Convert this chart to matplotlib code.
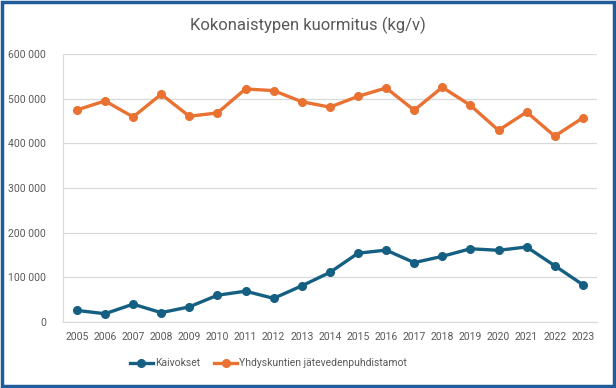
import matplotlib
matplotlib.use("Agg")
import matplotlib.pyplot as plt
from matplotlib.ticker import FuncFormatter
from matplotlib.patches import Rectangle

years = list(range(2005, 2024))
kaivokset = [26000, 18600, 40000, 21000, 34000, 60000, 69000, 53000, 81000, 111000,
             154000, 161000, 133000, 147000, 164000, 160500, 168000, 126000, 83500]
puhdistamot = [474600, 494800, 459000, 509800, 460500, 468000, 521600, 517900, 493000, 481000,
               505000, 523900, 474000, 525400, 485000, 429000, 470000, 416000, 457000]
y_ticks = [0, 100000, 200000, 300000, 400000, 500000, 600000]

C_BLUE = "#156082"
C_ORANGE = "#E97132"
C_TXT = "#595959"
C_GRID = "#D9D9D9"
FONT = "Roboto"

plt.rcParams["font.family"] = [FONT, "DejaVu Sans"]

fig = plt.figure(figsize=(6.16, 3.88), dpi=100, facecolor="white")
ax = fig.add_axes([0.102, 0.170, 0.867, 0.691])

x = list(range(len(years)))
ax.plot(x, kaivokset, color=C_BLUE, lw=2.4, marker="o", ms=5.5, label="Kaivokset", zorder=3)
ax.plot(x, puhdistamot, color=C_ORANGE, lw=2.4, marker="o", ms=5.5,
        label="Yhdyskuntien jätevedenpuhdistamot", zorder=3)

ax.set_xlim(-0.5, len(years) - 0.5)
ax.set_ylim(0, 600000)
ax.set_yticks(y_ticks)
ax.yaxis.set_major_formatter(FuncFormatter(lambda v, p: f"{int(v):,}".replace(",", " ")))
ax.set_xticks(x)
ax.set_xticklabels([str(y) for y in years])
ax.tick_params(axis="both", length=0, labelsize=7.5, labelcolor=C_TXT)
ax.tick_params(axis="x", pad=7)
ax.tick_params(axis="y", pad=12)
ax.grid(axis="y", color=C_GRID, lw=0.9)
ax.set_axisbelow(True)
for s in ["top", "right"]:
    ax.spines[s].set_visible(False)
ax.spines["left"].set_color(C_GRID)
ax.spines["bottom"].set_color(C_GRID)

fig.text(0.5, 0.935, "Kokonaistypen kuormitus (kg/v)", ha="center", va="center",
         fontsize=12, color=C_TXT)

# legend sits a bit left of centre, like in the original
leg = ax.legend(loc="center", bbox_to_anchor=(0.436, 0.064), bbox_transform=fig.transFigure,
                frameon=False, ncol=2, fontsize=7.5, labelcolor=C_TXT, handlelength=2.2,
                columnspacing=1.4, handletextpad=0.2, borderpad=0)

fig.patches.append(Rectangle((0.003, 0.004), 0.994, 0.992, transform=fig.transFigure,
                             fill=False, edgecolor="#1F5C99", lw=2.5))

fig.savefig("out.png", dpi=100, facecolor="white")
